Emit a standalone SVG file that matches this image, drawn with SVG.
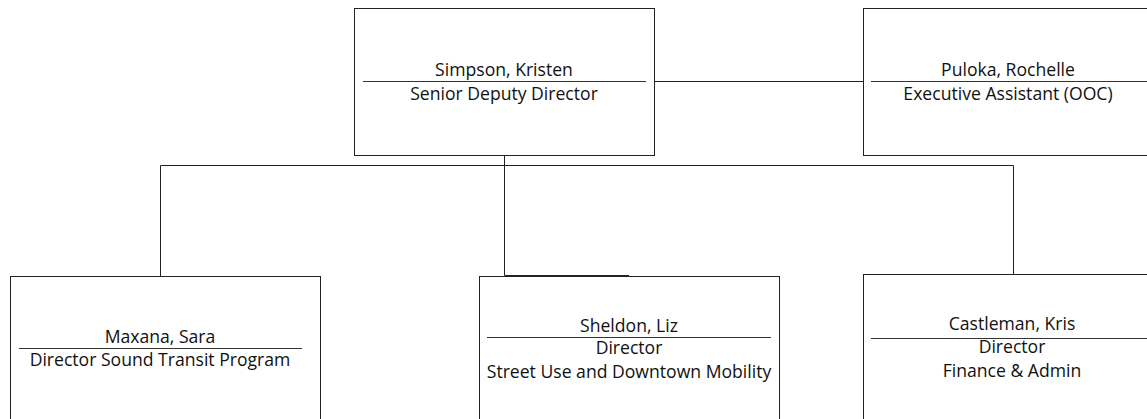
<svg xmlns="http://www.w3.org/2000/svg" width="1147" height="419" viewBox="0 0 1147 419">
<style>
.box{fill:#fff;stroke:#222;stroke-width:1}
.sep{stroke:#333;stroke-width:1}
.conn{fill:none;stroke:#222;stroke-width:1}
text{font-family:"Open Sans","Liberation Sans",sans-serif;font-size:17.6px;fill:#111;text-anchor:middle}
</style>
<rect width="1147" height="419" fill="#fff"/>
<g id="connectors">
<polyline class="conn" points="654.5,81.5 863.5,81.5"/>
<polyline class="conn" points="504.5,155 504.5,275.5 629,275.5"/>
<polyline class="conn" points="160.5,276 160.5,165.5 1013.5,165.5 1013.5,274"/>
</g>
<g id="simpson">
<rect class="box" x="354.5" y="8.5" width="300" height="147"/>
<line class="sep" x1="363" y1="81.5" x2="646" y2="81.5"/>
<text x="504" y="76">Simpson, Kristen</text>
<text x="504" y="100">Senior Deputy Director</text>
</g>
<g id="puloka">
<rect class="box" x="863.5" y="8.5" width="290" height="147"/>
<line class="sep" x1="871" y1="81.5" x2="1147" y2="81.5"/>
<text x="1008" y="76">Puloka, Rochelle</text>
<text x="1008" y="100">Executive Assistant (OOC)</text>
</g>
<g id="maxana">
<rect class="box" x="10.5" y="276.5" width="310" height="160"/>
<line class="sep" x1="19" y1="348.5" x2="302" y2="348.5"/>
<text x="160" y="343">Maxana, Sara</text>
<text x="160" y="366">Director Sound Transit Program</text>
</g>
<g id="sheldon">
<rect class="box" x="479.5" y="276.5" width="300" height="160"/>
<line class="sep" x1="487" y1="337.5" x2="771" y2="337.5"/>
<text x="629" y="332">Sheldon, Liz</text>
<text x="629" y="354">Director</text>
<text x="629" y="378">Street Use and Downtown Mobility</text>
</g>
<g id="castleman">
<rect class="box" x="863.5" y="274.5" width="300" height="160"/>
<line class="sep" x1="871" y1="338.5" x2="1147" y2="338.5"/>
<text x="1012" y="330">Castleman, Kris</text>
<text x="1012" y="353">Director</text>
<text x="1012" y="377">Finance &amp; Admin</text>
</g>
</svg>
